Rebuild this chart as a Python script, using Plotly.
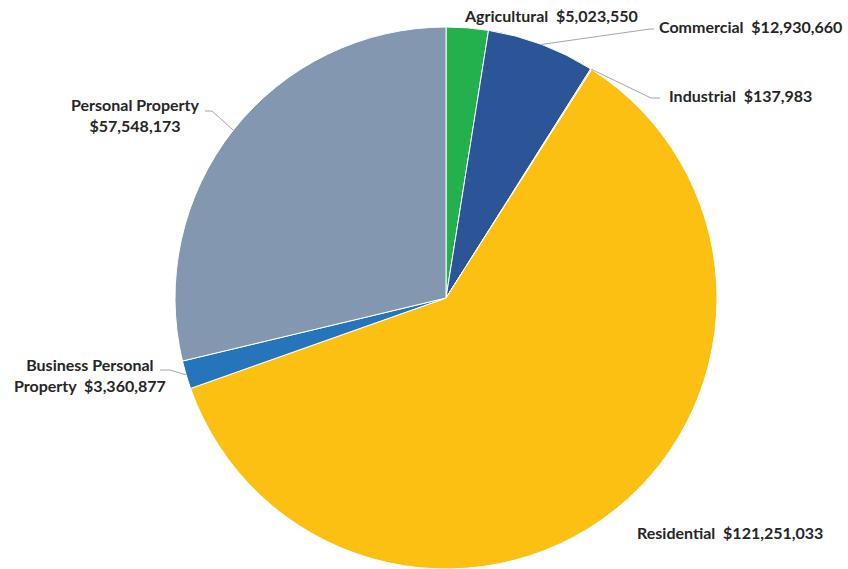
import math
import plotly.graph_objects as go

categories = ["Agricultural", "Commercial", "Industrial", "Residential",
              "Business Personal Property", "Personal Property"]
values = [5023550, 12930660, 137983, 121251033, 3360877, 57548173]
colors = ["#22B14C", "#2B5597", "#A5A5A5", "#FBC012", "#2675BB", "#8497B0"]
SP = "\u00a0 "
label_texts = [
    "Agricultural" + SP + "$5,023,550",
    "Commercial" + SP + "$12,930,660",
    "Industrial" + SP + "$137,983",
    "Residential" + SP + "$121,251,033",
    "Business Personal<br>Property" + SP + "$3,360,877",
    "Personal Property<br>$57,548,173",
]

W, H = 848, 569
cx, cy, R = 446, 298, 271  # page-pixel geometry


def px(x, y):
    return x / W, 1 - y / H


dom_x = [(cx - R) / W, (cx + R) / W]
dom_y = [max(0, 1 - (cy + R) / H), 1 - (cy - R) / H]

fig = go.Figure(go.Pie(
    labels=categories, values=values, sort=False, direction="clockwise",
    rotation=0, marker=dict(colors=colors, line=dict(color="white", width=1)),
    textinfo="none", hoverinfo="label+value", domain=dict(x=dom_x, y=dom_y),
    showlegend=False,
))

total = sum(values)
cum = 0
mids = []
for v in values:
    mids.append((cum + v / 2) / total * 2 * math.pi)
    cum += v


def edge(i):
    a = mids[i]
    return cx + R * math.sin(a), cy - R * math.cos(a)


label_pos = {
    0: (551, 15, "center"),
    1: (657, 26, "left"),
    2: (667, 95, "left"),
    3: (635, 532, "left"),
    4: (90, 375, "center"),
    5: (135, 115, "center"),
}
leaders = {
    1: [(650, 29), (654, 29)],
    2: [(651, 98), (660, 98)],
    4: [(170, 370), (160, 370)],
    5: [(212, 111), (205, 111)],
}
line_color = "#A6A6A6"
for i, pts in leaders.items():
    seq = [edge(i)] + pts
    for (x0, y0), (x1, y1) in zip(seq[:-1], seq[1:]):
        a0 = px(x0, y0)
        a1 = px(x1, y1)
        fig.add_shape(type="line", xref="paper", yref="paper",
                      x0=a0[0], y0=a0[1], x1=a1[0], y1=a1[1],
                      line=dict(color=line_color, width=1))

for i, (x, y, anc) in label_pos.items():
    ax, ay = px(x, y)
    fig.add_annotation(text=label_texts[i], x=ax, y=ay, xref="paper", yref="paper",
                       xanchor=anc, yanchor="middle", showarrow=False, align="center",
                       font=dict(family="Lato", size=16, color="#262626", weight="bold"))

fig.update_layout(width=W, height=H, margin=dict(l=0, r=0, t=0, b=0),
                  paper_bgcolor="white", plot_bgcolor="white")
fig.write_html("out.html", config={"displayModeBar": False},
               post_script="document.body.style.margin='0';document.body.style.overflow='hidden';")
